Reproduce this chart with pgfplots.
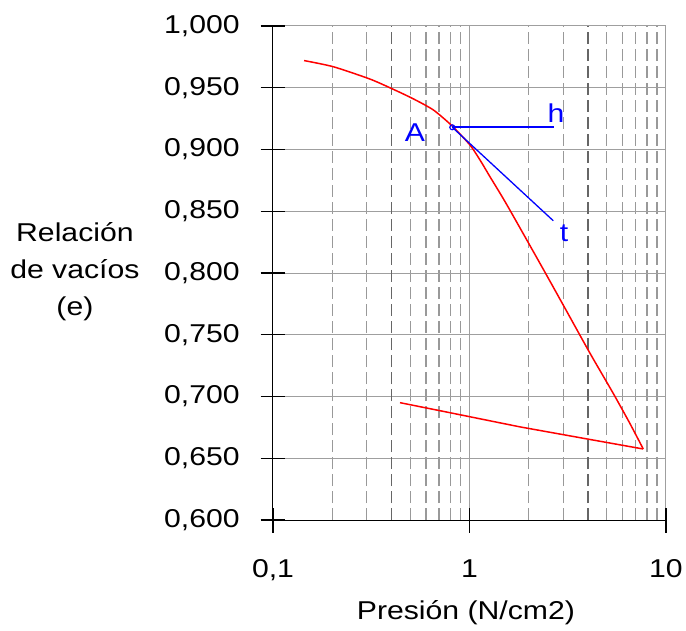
\documentclass[border=0pt]{standalone}
\usepackage{fontspec}
\setmainfont[FakeStretch=1.17]{Liberation Sans}
\usepackage{pgfplots}
\pgfplotsset{compat=1.18}

% curva de carga
\pgfplotstableread{
x     e
0.144 0.972
0.203 0.967
0.312 0.957
0.410 0.9487
0.518 0.941
0.655 0.932
0.817 0.919
1.006 0.9036
1.131 0.8915
1.271 0.878
1.546 0.8555
2.375 0.803
3.124 0.769
4.105 0.735
5.39  0.7025
6.56  0.678
7.66  0.6575
}\carga

% curva de descarga
\pgfplotstableread{
x     e
7.66  0.6575
4.105 0.6652
1.807 0.6754
0.708 0.6885
0.443 0.695
}\descarga

\begin{document}
\fontsize{25.8bp}{37bp}\selectfont
\begin{tikzpicture}
\begin{axis}[
  name=ax,
  scale only axis, width=393bp, height=494bp,
  xmode=log, log basis x=10,
  xmin=0.1, xmax=10, ymin=0.6, ymax=1.0,
  axis x line*=bottom, axis y line*=left,
  axis line style={black, line width=1bp, -},
  xtick={0.1,1,10}, xticklabels={{0,1},{1},{10}},
  minor xtick={0.2,0.3,0.4,0.5,0.6,0.7,0.8,0.9,2,3,4,5,6,7,8,9},
  ytick={0.6,0.65,0.7,0.75,0.8,0.85,0.9,0.95,1.0},
  yticklabels={{0,600},{0,650},{0,700},{0,750},{0,800},{0,850},{0,900},{0,950},{1,000}},
  yticklabel style={xshift=-12bp},
  xticklabel style={yshift=-18bp},
  tick align=center, major tick length=25bp, minor tick length=0pt,
  tick style={black, line width=1.3bp},
  xmajorgrids, xminorgrids, ymajorgrids,
  major grid style={gray!75, solid, line width=1bp},
  minor grid style={gray!80, dash pattern=on 12bp off 5bp, line width=1.2bp},
  extra x ticks={0.4,4}, extra x tick labels={},
  extra x tick style={grid=major, major tick length=0pt,
    major grid style={black!60, dash pattern=on 12bp off 5bp, line width=1.5bp}},
  xlabel={Presión (N/cm2)},
  xlabel style={at={(axis description cs:0.491,-0.188)}, anchor=center},
  ylabel={Relación\\de vacíos\\(e)},
  ylabel style={rotate=-90, at={(axis description cs:-0.504,0.503)}, anchor=center, align=center},
]
\addplot[red, line width=1.5bp, mark=none, smooth, tension=0.4] table[x=x, y=e] {\carga};
\addplot[red, line width=1.5bp, mark=none] table[x=x, y=e] {\descarga};
\addplot[blue, line width=1.6bp, mark=none] coordinates {(0.817,0.918) (2.70,0.918)};
\addplot[blue, line width=1.3bp, mark=none] coordinates {(0.817,0.918) (2.67,0.8423)};
\addplot[blue, only marks, mark=o, mark size=2.5bp, mark options={line width=1.1bp}] coordinates {(0.817,0.918)};
\node[blue] at (axis cs:0.528,0.914) {A};
\node[blue] at (axis cs:2.76,0.9295) {h};
\node[blue] at (axis cs:3.03,0.832) {t};
\end{axis}
\pgfresetboundingbox
\path ([xshift=-273bp,yshift=-111bp]ax.south west) rectangle ([xshift=20bp,yshift=26bp]ax.north east);
\end{tikzpicture}
\end{document}
